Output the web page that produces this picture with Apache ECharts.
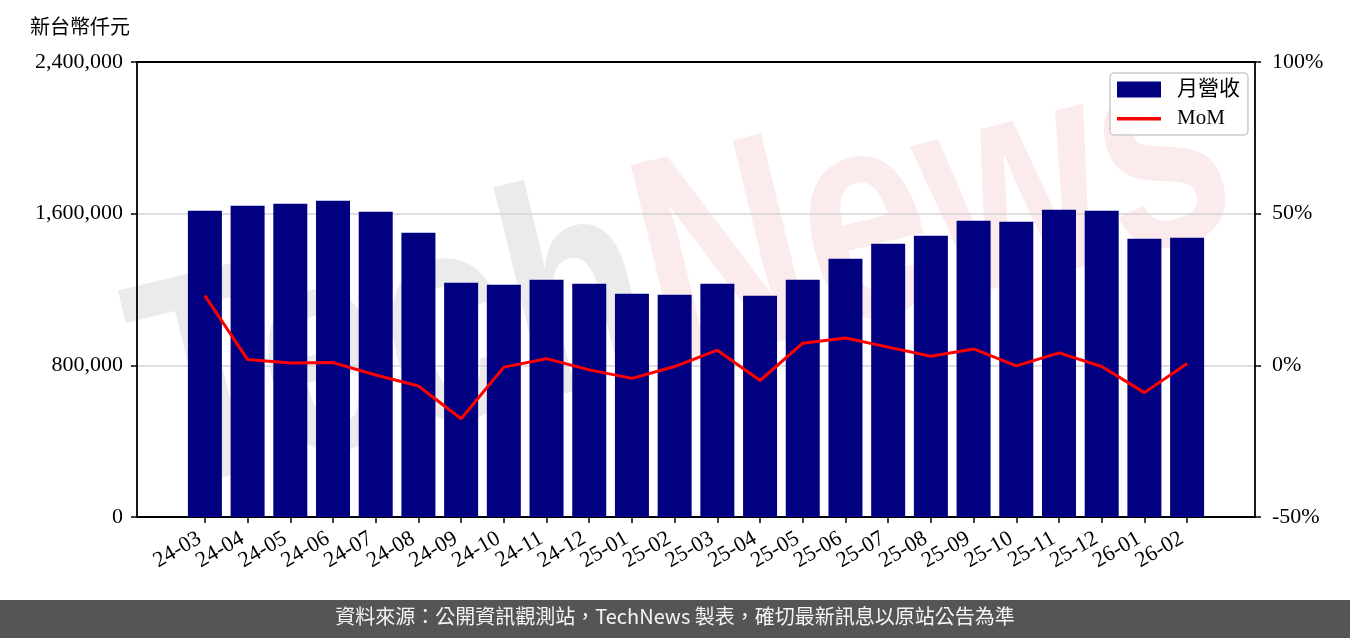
<!DOCTYPE html>
<html>
<head>
<meta charset="utf-8">
<script src="https://cdn.jsdelivr.net/npm/echarts@6/dist/echarts.min.js"></script>
<style>
html,body{margin:0;padding:0;background:#fff;}
#chart{width:1350px;height:638px;}
</style>
</head>
<body>
<div id="chart"></div>
<script>
const categories = ['24-03','24-04','24-05','24-06','24-07','24-08','24-09','24-10','24-11','24-12','25-01','25-02','25-03','25-04','25-05','25-06','25-07','25-08','25-09','25-10','25-11','25-12','26-01','26-02'];
const revenue = [1615000,1642000,1652000,1668000,1610000,1499000,1235000,1225000,1251000,1230000,1177000,1172000,1230000,1167000,1251000,1362000,1441000,1484000,1563000,1558000,1621000,1616000,1468000,1473000];
const mom = [23.0,1.9,0.8,0.9,-3.2,-6.8,-17.6,-0.6,2.2,-1.5,-4.3,-0.4,5.0,-5.0,7.3,9.0,6.0,3.0,5.4,-0.2,4.1,-0.4,-9.0,0.6];
const leftTicks = [0,800000,1600000,2400000];
const rightTicks = [-50,0,50,100];
const unitLabel = '新台幣仟元';
const seriesNames = ['月營收','MoM'];
const footerText = '資料來源：公開資訊觀測站，TechNews 製表，確切最新訊息以原站公告為準';

const serif = '"Liberation Serif", "Noto Sans CJK TC", serif';
const cjk = '"Liberation Serif", "Noto Sans CJK TC", sans-serif';
const idx = categories.map((c, i) => i);
const n = categories.length;
const xMin = -0.4 - 0.05 * (n - 0.2);
const xMax = n - 1 + 0.4 + 0.05 * (n - 0.2);

// plot frame
const W = 1350, gLeft = 137, gRight = 95, gTop = 62, gBottom = 121;
const unit = (W - gLeft - gRight) / (xMax - xMin);
const labelLeft = gLeft + (-xMin - 0.5) * unit;
const labelRight = W - labelLeft - n * unit;

const spine = {show: true, onZero: false, lineStyle: {color: '#000', width: 1.8}};
const tick = {show: true, length: 6, lineStyle: {color: '#000', width: 1.5}};

const chart = echarts.init(document.getElementById('chart'), null, {renderer: 'canvas'});
chart.setOption({
  animation: false,
  backgroundColor: '#fff',
  textStyle: {fontFamily: serif},
  grid: [
    {left: gLeft, right: gRight, top: gTop, bottom: gBottom},
    {left: labelLeft, right: labelRight, top: gTop, bottom: gBottom}
  ],
  legend: {
    orient: 'vertical', left: 1110, top: 73,
    padding: [6, 8, 6, 7], itemWidth: 44, itemHeight: 16, itemGap: 8,
    backgroundColor: 'rgba(255,255,255,0.85)', borderColor: '#cccccc', borderWidth: 1.5, borderRadius: 4,
    textStyle: {fontSize: 21, color: '#000', fontFamily: cjk, padding: [0, 0, 0, 11]},
    data: [
      {name: seriesNames[0], icon: 'rect'},
      {name: seriesNames[1], icon: 'path://M0,0h0.01v0.01h-0.01zM0,6.5h44v3.5h-44zM43.99,15.99h0.01v0.01h-0.01z'}
    ]
  },
  xAxis: [{
    type: 'value', min: xMin, max: xMax, position: 'bottom', gridIndex: 0,
    axisLine: spine, splitLine: {show: false}, axisTick: {show: false}, axisLabel: {show: false}
  }, {
    type: 'value', min: xMin, max: xMax, position: 'top', gridIndex: 0,
    axisLine: spine, axisTick: {show: false}, axisLabel: {show: false}, splitLine: {show: false}
  }, {
    type: 'category', data: categories, gridIndex: 1, position: 'bottom', boundaryGap: true,
    axisLine: {show: false, onZero: false},
    axisTick: Object.assign({alignWithLabel: true, interval: 0}, tick),
    splitLine: {show: false},
    axisLabel: {interval: 0, rotate: 30, margin: 17, fontSize: 22, color: '#000', fontFamily: serif, padding: [0, 6, 0, 0]}
  }],
  yAxis: [{
    type: 'value', min: leftTicks[0], max: leftTicks[leftTicks.length - 1], interval: leftTicks[1] - leftTicks[0],
    position: 'left', gridIndex: 0,
    axisLine: spine,
    axisTick: tick,
    splitLine: {show: true, lineStyle: {color: '#d4d4d4', width: 1.6}},
    axisLabel: {margin: 14, fontSize: 22, color: '#000', fontFamily: serif,
      formatter: v => v.toLocaleString('en-US')}
  }, {
    type: 'value', min: rightTicks[0], max: rightTicks[rightTicks.length - 1], interval: rightTicks[1] - rightTicks[0],
    position: 'right', gridIndex: 0,
    axisLine: spine,
    axisTick: tick,
    splitLine: {show: false},
    axisLabel: {margin: 17, fontSize: 22, color: '#000', fontFamily: serif, formatter: v => v + '%'}
  }, {
    type: 'value', gridIndex: 1, show: false, min: 0, max: 1
  }],
  series: [{
    name: seriesNames[0], type: 'bar', xAxisIndex: 0, yAxisIndex: 0, barWidth: 34,
    itemStyle: {color: '#000080'},
    data: idx.map(i => [i, revenue[i]])
  }, {
    name: seriesNames[1], type: 'line', xAxisIndex: 0, yAxisIndex: 1, symbol: 'none',
    lineStyle: {color: '#ff0000', width: 3}, itemStyle: {color: '#ff0000'},
    data: idx.map(i => [i, mom[i]]), z: 5
  }],
  graphic: [
    {
      type: 'text', left: 30, top: 16, z: 10,
      style: {text: unitLabel, fontSize: 20, fill: '#000', fontFamily: '"Noto Sans CJK TC", sans-serif'}
    },
    {
      type: 'group', x: 720, y: 425, rotation: 0.24, z: 50, silent: true,
      children: [{
        type: 'text', x: 0, y: 0, scaleX: 0.76,
        style: {
          text: '{a|Tech}{b|News}', textAlign: 'center', textVerticalAlign: 'bottom',
          fontSize: 300, fontWeight: 'bold', fontFamily: '"Liberation Sans", sans-serif',
          rich: {
            a: {fontSize: 300, fontWeight: 'bold', fontFamily: '"Liberation Sans", sans-serif', fill: 'rgba(120,120,120,0.15)'},
            b: {fontSize: 300, fontWeight: 'bold', fontFamily: '"Liberation Sans", sans-serif', fill: 'rgba(215,70,80,0.11)'}
          }
        }
      }]
    },
    {
      type: 'rect', left: 0, top: 600, z: 60,
      shape: {width: 1350, height: 38}, style: {fill: '#555555'}
    },
    {
      type: 'text', left: 'center', top: 606, z: 61,
      style: {text: footerText, fontSize: 20, fill: '#f5f5f5', fontFamily: '"Noto Sans CJK TC", sans-serif'}
    }
  ]
});
</script>
</body>
</html>
